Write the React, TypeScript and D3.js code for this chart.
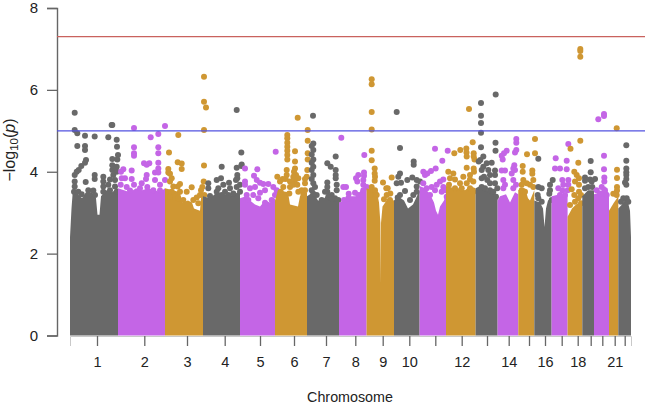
import React, { useEffect, useRef } from 'react';
import * as d3 from 'd3';

type Pt = [number, number];

// chromosome lengths, in axis units along the concatenated genome
const chromSizes = [48, 47, 38, 37, 35, 32, 32, 27.6, 27.4, 25.6, 26.4, 29.6, 22, 20.7, 16, 17.3, 16, 14.7, 11.7, 15, 9.3, 12.7];
const chromTicks = [27, 74.3, 117, 154.7, 190, 224, 256, 285.3, 312.7, 339.3, 365.3, 391.7, 417, 438.7, 459, 475, 491.7, 507.7, 520.7, 532.3, 544.7, 554.7];
const chromLabels = ['1', '2', '3', '4', '5', '6', '7', '8', '9', '10', '', '12', '', '14', '', '16', '', '18', '', '', '21', ''];
const yTicks = [0, 2, 4, 6, 8];
const chromColors = ['#696969', '#c465e6', '#cf9733'];

const genomeWide = 7.3;
const suggestive = 5;

// top of the solid mass of points on each chromosome
const floors: Pt[][] = [
  [[0, 2.4], [1.5, 3.1], [3, 3.6], [8, 3.45], [12, 3.35], [16, 3.5], [22, 3.5], [26, 3.35], [27.5, 2.95], [29.5, 2.95], [31, 3.4], [36, 3.55], [42, 3.5], [48, 3.6]],
  [[48, 3.6], [54, 3.55], [60, 3.5], [66, 3.6], [72, 3.55], [78, 3.6], [85, 3.55], [90, 3.5], [95, 3.6]],
  [[95, 3.6], [103, 3.55], [110, 3.5], [112, 3.25], [118, 3.3], [122, 3.25], [124, 3.1], [130, 3.05], [131, 3.35], [133, 3.55]],
  [[133, 3.4], [140, 3.35], [147, 3.5], [155, 3.45], [160, 3.4], [168, 3.5], [170, 3.45]],
  [[170, 3.35], [176, 3.4], [180, 3.3], [185, 3.2], [190, 3.15], [195, 3.3], [200, 3.25], [205, 3.35]],
  [[205, 3.3], [208, 3.55], [218, 3.5], [220, 3.2], [228, 3.15], [230, 3.4], [237, 3.5]],
  [[237, 3.4], [243, 3.5], [248, 3.3], [252, 3.3], [258, 3.45], [262, 3.35], [269, 3.35]],
  [[269, 3.25], [275, 3.3], [280, 3.4], [287, 3.4], [292, 3.6], [296.6, 3.65]],
  [[296.6, 3.6], [302, 3.55], [307, 3.5], [309, 3.25], [310.4, 2.75], [310.7, 1.25], [311, 2.75], [312.5, 3.15], [318, 3.35], [324, 3.3]],
  [[324, 3.3], [328, 3.4], [334, 3.3], [338, 3.1], [343, 3.2], [346, 3.35], [349.6, 3.55]],
  [[349.6, 3.65], [355, 3.6], [360, 3.45], [364, 3.25], [366, 3.05], [368, 2.95], [370, 3.15], [374, 3.3], [376, 3.45]],
  [[376, 3.65], [385, 3.6], [390, 3.6], [395, 3.55], [400, 3.65], [405.6, 3.6]],
  [[405.6, 3.6], [410, 3.65], [417, 3.55], [420, 3.5], [427.6, 3.45]],
  [[427.6, 3.3], [430, 3.4], [436, 3.45], [440, 3.25], [445, 3.5], [448.3, 3.45]],
  [[448.3, 3.55], [455, 3.6], [458, 3.35], [460, 3.3], [464.3, 3.55]],
  [[464.3, 3.3], [470, 3.25], [473, 3.1], [474.5, 2.65], [476, 3.1], [478, 3.3], [481.6, 3.35]],
  [[481.6, 3.4], [490, 3.45], [497.6, 3.45]],
  [[497.6, 2.9], [502, 3.1], [506, 3.2], [510, 3.25], [512.3, 3.3]],
  [[512.3, 3.4], [518, 3.55], [524, 3.55]],
  [[524, 3.45], [530, 3.5], [535, 3.65], [539, 3.45]],
  [[539, 3.05], [544, 3.25], [548.3, 3.4]],
  [[548.3, 3.1], [552, 3.2], [556, 3.35], [558, 3.25], [560, 3.05], [561, 2.4]],
];

// single SNPs readable above the mass, one list per chromosome
const chr1: Pt[] = [[4.7, 5.44], [4.7, 5.02], [7.3, 4.94], [15, 4.88], [24.7, 4.86], [38.3, 4.84], [42.3, 5.14], [41.6, 5.14], [46.7, 4.78], [7.3, 4.63], [15, 4.63], [15, 4.53], [47, 4.61], [48, 4.41], [42.3, 4.31], [47.3, 4.3], [16, 4.29], [15, 4.22], [11.3, 4.14], [8.7, 4.04], [6.7, 4.0], [4.7, 3.92], [24.7, 3.92], [24.7, 3.82], [15.7, 3.75], [33.3, 3.88], [42.3, 4.16], [42.3, 4.04], [46.7, 4.12], [46.7, 4.0], [43.3, 3.92], [40, 3.81], [45, 3.8], [33.3, 3.76], [4.7, 3.76], [4.7, 3.64], [4, 3.51], [8.3, 3.51], [18.3, 3.55], [23.3, 3.54], [11.7, 3.45], [18.3, 3.43], [25, 3.43], [33.3, 3.64], [38.3, 3.68], [33.3, 3.51], [40, 3.55], [45, 3.64], [46.7, 3.51], [38.3, 3.43]];
const chr2: Pt[] = [[64, 5.07], [95, 5.12], [88.3, 4.92], [80.7, 4.84], [88.3, 4.6], [64, 4.6], [64, 4.45], [64, 4.39], [88.3, 4.45], [53.3, 4.06], [61.7, 4.03], [88.3, 4.22], [88.3, 4.08], [85, 3.98], [88.3, 3.98], [74, 4.21], [76.7, 4.17], [79.3, 4.21], [76.7, 3.92], [51, 4.0], [55, 3.84], [61.7, 3.82], [50.7, 3.68], [51.7, 3.84], [71.7, 3.72], [76, 3.82], [85, 3.8], [90, 3.68], [95, 3.8], [64, 3.68], [56.7, 3.63], [70, 3.6], [77.3, 3.63], [83.3, 3.55], [60, 3.54], [90, 3.54]];
const chr3: Pt[] = [[134, 6.32], [134, 5.71], [136, 5.57], [134, 5.02], [134, 4.15], [108.3, 4.9], [99, 4.47], [107.7, 4.23], [111.7, 4.2], [111.7, 4.07], [98.3, 4.07], [98.3, 3.98], [100, 3.95], [101.7, 3.84], [100, 3.76], [110, 3.7], [107.7, 3.64], [103.3, 3.64], [116.7, 3.51], [121.7, 3.62], [133.7, 3.76], [132.3, 3.63], [131, 3.55], [110, 3.51], [101.7, 3.51], [126.7, 3.37], [123.3, 3.31], [130, 3.43], [128.3, 3.23], [108.3, 3.35], [100, 3.39], [113.3, 3.31], [134.3, 3.43]];
const chr4: Pt[] = [[166.7, 5.51], [171.3, 4.47], [171.7, 4.18], [166.7, 4.1], [151.7, 4.12], [171.3, 4.14], [167.3, 3.92], [167.3, 3.84], [166, 3.8], [151, 3.84], [146.7, 3.8], [159, 3.73], [138.3, 3.72], [138.3, 3.6], [148.3, 3.6], [153.3, 3.68], [170, 3.68], [166.7, 3.63], [160, 3.6], [146.7, 3.51], [155, 3.51], [163.3, 3.47], [170, 3.51], [140, 3.41], [151.7, 3.43], [158.3, 3.43]];
const chr5: Pt[] = [[175, 4.08], [187.3, 4.06], [205.7, 4.49], [175, 3.76], [175, 3.68], [184, 3.9], [186.7, 3.8], [190, 3.73], [193.3, 3.7], [198.3, 3.7], [203.3, 3.63], [206.7, 3.55], [195, 3.55], [185, 3.63], [180, 3.6], [176.7, 3.43], [183.3, 3.43], [190, 3.49], [201.7, 3.31], [195, 3.24], [188.3, 3.35], [178.3, 3.31], [205, 3.43]];
const chr6: Pt[] = [[227.7, 5.32], [237.7, 5.02], [237.7, 4.76], [217.3, 4.9], [217.3, 4.82], [217.3, 4.71], [217.3, 4.61], [217.3, 4.51], [217.3, 4.41], [217.3, 4.3], [216.7, 4.04], [216.7, 3.92], [215.7, 3.82], [225, 4.5], [225, 4.25], [225, 4.08], [224, 4], [226, 3.92], [223.3, 3.88], [228.3, 3.84], [225, 3.8], [237.7, 4.45], [237.7, 4.3], [237.3, 4.04], [236.7, 3.88], [235, 3.82], [235, 3.72], [235, 3.55], [207.3, 3.88], [212.7, 3.82], [210, 3.76], [213.3, 3.63], [220, 3.63], [220, 3.76], [223.3, 3.68], [227.3, 3.68], [228.3, 3.51], [231.7, 3.55], [233.3, 3.43], [210.7, 3.51], [219.3, 3.47]];
const chr7: Pt[] = [[243, 5.37], [243.3, 4.69], [241.7, 4.63], [243.3, 4.53], [241.7, 4.42], [243.3, 4.3], [241.7, 4.22], [243.3, 4.12], [241.7, 4.04], [243.3, 3.92], [241.7, 3.82], [243.3, 3.72], [245, 3.63], [241.7, 3.55], [243.3, 3.46], [246.7, 3.43], [265.7, 4.37], [257.3, 4.21], [260.7, 4.12], [265.7, 4.04], [265.7, 3.92], [265.7, 3.84], [257.3, 3.74], [257.3, 3.63], [266.7, 3.68], [266.7, 3.55], [257.3, 3.51], [255, 3.51], [261.7, 3.43], [258.3, 3.39], [265, 3.35], [251.7, 3.31], [268.3, 3.31], [261.7, 3.33]];
const chr8: Pt[] = [[271.3, 4.83], [294.3, 4.41], [294, 3.98], [294, 3.9], [288.3, 3.92], [286, 3.84], [293.3, 3.8], [287.3, 3.76], [293.3, 3.68], [296.7, 3.63], [273.3, 3.63], [276, 3.63], [278.7, 3.46], [285, 3.49], [288.3, 3.43], [293.3, 3.55], [278.3, 3.35], [274, 3.31], [291.7, 3.43]];
const chr9: Pt[] = [[301.7, 6.26], [301.7, 6.14], [301.7, 5.46], [301.7, 5.03], [301.7, 4.51], [301.7, 4.28], [304.7, 4.08], [304.7, 3.96], [304.7, 3.78], [301.7, 3.63], [313, 3.74], [321.7, 3.86], [316.3, 3.6], [320.3, 3.47], [305.3, 3.47], [305, 3.88], [301.7, 3.55], [305, 3.55], [300, 3.43], [306.7, 3.43], [317.7, 3.6], [316.7, 3.43], [314, 3.33], [320, 3.31]];
const chr10: Pt[] = [[326.7, 5.46], [330, 4.58], [343.7, 4.25], [343.7, 4.17], [330, 3.96], [328.3, 3.88], [326.7, 3.72], [331, 3.73], [337.3, 3.8], [342.3, 3.86], [350, 3.76], [346.7, 3.8], [335, 3.53], [330, 3.43], [327.7, 3.37], [343.3, 3.43], [346.7, 3.64], [346.7, 3.51], [340, 3.31]];
const chr11: Pt[] = [[365, 4.56], [377.7, 4.51], [372.3, 4.27], [365.7, 4.08], [361, 4.02], [357.3, 3.96], [353.3, 4.0], [355, 3.92], [373.3, 3.81], [370, 3.76], [373.3, 3.63], [375.7, 3.55], [371.7, 3.51], [361.7, 3.63], [366.7, 3.68], [353.3, 3.72], [365, 3.55], [356.7, 3.6], [376.7, 3.39], [360, 3.43]];
const chr12: Pt[] = [[399, 5.53], [402.7, 4.72], [396.3, 4.57], [396.5, 4.47], [396.7, 4.37], [390.3, 4.53], [384.3, 4.45], [403.7, 4.45], [403.7, 4.37], [404.5, 4.3], [396.7, 4.1], [403.7, 4.08], [378.3, 4.0], [404, 4.0], [383.3, 3.96], [380, 3.84], [385, 3.81], [393.3, 3.88], [400, 3.92], [400, 3.81], [403.3, 3.76], [396.7, 3.72], [390, 3.72], [379, 3.68], [385, 3.6], [391.7, 3.6], [400, 3.6], [403.3, 3.51]];
const chr13: Pt[] = [[411, 5.68], [411, 5.37], [411, 5.19], [411, 4.95], [411, 4.6], [425.7, 5.89], [425.5, 4.71], [425.5, 4.51], [413.3, 4.37], [410.3, 4.29], [408.7, 4.25], [421.7, 4.22], [416.7, 4.21], [413.3, 4.12], [418.3, 4.04], [411.7, 4.04], [425, 4.03], [420, 3.92], [414, 3.88], [417.3, 3.8], [425, 3.92], [411.7, 3.84], [420, 3.72], [425, 3.72], [411.7, 3.63], [415, 3.6], [420, 3.55], [423.3, 3.51], [427.3, 3.6], [426, 3.39]];
const chr14: Pt[] = [[446.3, 4.8], [446.3, 4.71], [446.3, 4.53], [445, 4.47], [436.7, 4.51], [434, 4.45], [431.7, 4.39], [432.7, 4.3], [444.3, 4.16], [443.3, 4.08], [441.7, 3.96], [445, 4.04], [431.7, 4.03], [435, 4.03], [433.3, 3.8], [435, 3.68], [443.3, 3.8], [446, 3.68], [433.3, 3.6], [443.3, 3.6]];
const chr15: Pt[] = [[465, 4.8], [465, 4.45], [457, 4.43], [452.7, 4.14], [452.7, 4.0], [462.3, 4.03], [462.3, 3.95], [453.3, 3.8], [451.7, 3.68], [463.3, 3.8], [460, 3.68], [456.7, 3.72], [451.7, 3.55], [463.3, 3.63], [455, 3.51]];
const chr16: Pt[] = [[468.3, 4.32], [468.3, 3.63], [471.7, 3.6], [467.7, 3.43], [468.3, 3.35], [471.7, 3.27], [482.7, 3.8], [480, 3.68], [480, 3.55], [479.3, 3.46], [481.7, 3.31]];
const chr17: Pt[] = [[485.7, 4.33], [485, 4.08], [490, 4.08], [496.7, 4.27], [496.7, 4.06], [498.3, 4.68], [492.3, 3.8], [498.3, 3.8], [493.3, 3.68], [498.3, 3.68], [488.3, 3.6], [492.3, 3.55], [497.7, 3.55], [490, 3.43], [495, 3.43]];
const chr18: Pt[] = [[510.3, 7.0], [510.3, 6.95], [510.3, 6.81], [510.3, 4.76], [500.5, 4.56], [508.3, 4.22], [504.3, 4], [506.7, 3.92], [509, 3.84], [505, 3.76], [501.7, 3.57], [509, 3.68], [504.3, 3.43], [509, 3.51], [500, 3.19], [508.3, 3.35], [505, 3.27], [511, 3.43], [511, 3.23]];
const chr19: Pt[] = [[520.7, 4.26], [520.7, 3.99], [515, 3.86], [515, 3.78], [520, 3.81], [525, 3.82], [518.3, 3.63], [521.7, 3.76], [515, 3.6], [522.3, 3.63]];
const chr20: Pt[] = [[534, 5.41], [534, 5.36], [528.3, 5.28], [534, 4.39], [534, 4.06], [534.3, 3.86], [534.3, 3.76], [531.7, 3.63], [526.7, 3.55], [535, 3.55], [530, 3.47], [536.7, 3.43]];
const chr21: Pt[] = [[546.7, 5.06], [547, 4.05], [547, 3.85], [547, 3.63], [547, 3.54], [543.3, 3.46], [546.7, 3.43]];
const chr22: Pt[] = [[556.3, 4.65], [556.3, 4.27], [556.3, 4.08], [556.3, 3.99], [556.3, 3.92], [556.3, 3.82], [555, 3.74], [556.3, 3.68], [553.3, 3.35], [556.7, 3.35], [551, 3.27], [558.3, 3.27]];
const chromPoints = [chr1, chr2, chr3, chr4, chr5, chr6, chr7, chr8, chr9, chr10, chr11, chr12, chr13, chr14, chr15, chr16, chr17, chr18, chr19, chr20, chr21, chr22];

const WIDTH = 647;
const HEIGHT = 405;
const axisGray = '#666666';
const font = '"Liberation Sans", Arial, sans-serif';

export default function App() {
  const xAxisRef = useRef<SVGGElement>(null);
  const yAxisRef = useRef<SVGGElement>(null);

  const total = d3.sum(chromSizes);
  const x = d3.scaleLinear().domain([0, total]).range([70, 631]);
  const y = d3.scaleLinear().domain([0, 8]).range([335.5, 8]);

  const mass = d3.area<Pt>()
    .x(d => x(d[0]))
    .y0(y(0))
    .y1(d => y(d[1]));

  useEffect(() => {
    if (!xAxisRef.current || !yAxisRef.current) return;

    const xAxis = d3.axisBottom(x)
      .tickValues(chromTicks)
      .tickSize(10)
      .tickPadding(11)
      .tickFormat((_, i) => chromLabels[i]);
    const xg = d3.select(xAxisRef.current).call(xAxis);
    xg.select('.domain').attr('stroke', '#c9c9c9').attr('stroke-width', 1);
    xg.selectAll('.tick line').attr('stroke', axisGray).attr('stroke-width', 1.3);
    xg.selectAll('.tick text').attr('fill', '#222').style('font', `14.5px ${font}`);

    const yAxis = d3.axisLeft(y)
      .tickValues(yTicks)
      .tickSize(10)
      .tickPadding(9)
      .tickFormat(d3.format('d') as any);
    const yg = d3.select(yAxisRef.current).call(yAxis);
    yg.select('.domain').attr('stroke', axisGray).attr('stroke-width', 1.4);
    yg.selectAll('.tick line').attr('stroke', axisGray).attr('stroke-width', 1.3);
    yg.selectAll('.tick text').attr('fill', '#222').style('font', `15px ${font}`);
  }, []);

  return (
    <svg
      width={WIDTH}
      height={HEIGHT}
      style={{ position: 'absolute', left: 0, top: 0, background: '#fff' }}
    >
      <g transform="translate(0,336)" ref={xAxisRef} />
      <g transform="translate(57,0)" ref={yAxisRef} />

      {chromSizes.map((_, i) => {
        const color = chromColors[i % 3];
        return (
          <g key={i} fill={color}>
            <path d={mass(floors[i]) || ''} />
            {chromPoints[i].map((d, j) => (
              <circle key={j} cx={x(d[0])} cy={y(d[1])} r={3} />
            ))}
          </g>
        );
      })}

      <line x1={57} x2={645} y1={y(genomeWide)} y2={y(genomeWide)} stroke="#c9625e" strokeWidth={1.3} />
      <line x1={57} x2={645} y1={y(suggestive)} y2={y(suggestive)} stroke="#5252e0" strokeWidth={1.3} />

      <text
        transform="translate(15,150) rotate(-90)"
        textAnchor="middle"
        fontFamily={font}
        fontSize={16}
        fill="#222"
      >
        −log<tspan fontSize={11.5} dy={3}>10</tspan><tspan dy={-3}>(</tspan><tspan fontStyle="italic">p</tspan>)
      </text>
      <text x={350} y={402} textAnchor="middle" fontFamily={font} fontSize={14.3} fill="#222">
        Chromosome
      </text>
    </svg>
  );
}
